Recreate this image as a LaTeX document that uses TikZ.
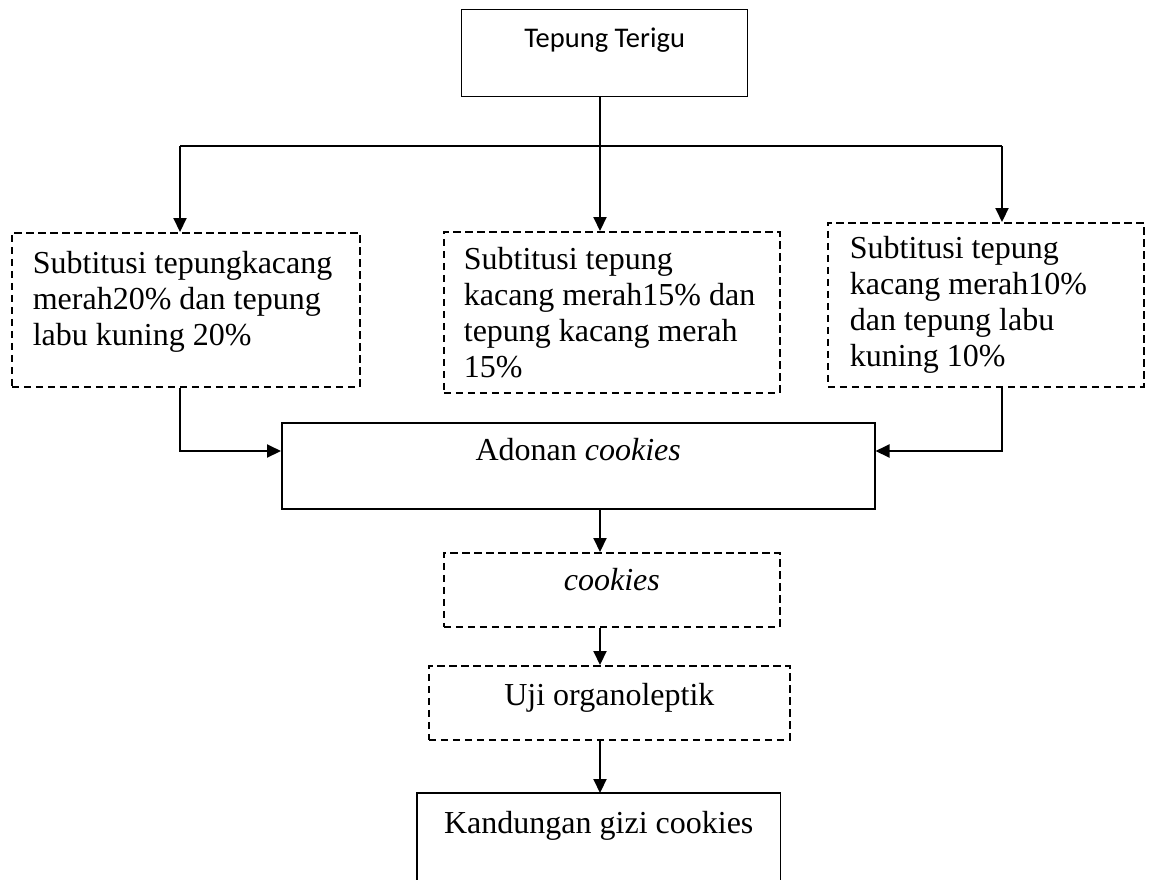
\documentclass[tikz,border=0pt]{standalone}
\usepackage{fontspec}
\setmainfont{Liberation Serif}
\newfontfamily\carlito{Carlito}
\usetikzlibrary{arrows.meta}
\tikzset{
  boxbase/.style={rectangle, inner ysep=0pt, anchor=north west, line width=1.5pt},
  solidbox/.style={boxbase, draw},
  dashbox/.style={boxbase, draw, dash pattern=on 7.5pt off 4.5pt, line width=1.7pt},
  conn/.style={line width=2pt},
  arr/.style={conn, -{Triangle[length=14pt,width=13pt]}},
  serif32/.style={font=\fontsize{32}{36}\selectfont},
}
\newcommand{\lines}[2]{\makebox[#1][l]{\begin{tabular}[t]{@{}l@{}}#2\end{tabular}}}
\begin{document}
\begin{tikzpicture}[x=1pt,y=-1pt]
\useasboundingbox (0,0) rectangle (1150,879);
\fill[white] (0,0) rectangle (1150,879);
% top box
\node[solidbox, line width=1.3pt, inner xsep=0pt, minimum width=286pt, text height=38pt, text depth=49pt,
      font=\carlito\fontsize{28.5}{34}\selectfont] (T) at (461,9) {Tepung Terigu};
% substitution boxes
\node[dashbox, serif32, inner xsep=21pt, text height=41pt, text depth=113pt] (b1) at (11,232)
  {\lines{306pt}{Subtitusi tepungkacang\\merah20\% dan tepung\\labu kuning 20\%}};
\node[dashbox, serif32, inner xsep=20pt, text height=38pt, text depth=123pt] (b2) at (443,231)
  {\lines{296pt}{Subtitusi tepung\\kacang merah15\% dan\\tepung kacang merah\\15\%}};
\node[dashbox, serif32, inner xsep=22pt, text height=36pt, text depth=128pt] (b3) at (827,222)
  {\lines{272pt}{Subtitusi tepung\\kacang merah10\%\\dan tepung labu\\kuning 10\%}};
% lower chain
\node[solidbox, serif32, inner xsep=0pt, minimum width=593pt, text height=38pt, text depth=48pt] (A) at (281,422)
  {Adonan \textit{cookies}};
\node[dashbox, serif32, inner xsep=0pt, minimum width=336pt, text height=38pt, text depth=36pt] (C) at (443,552)
  {\textit{cookies}};
\node[dashbox, serif32, inner xsep=0pt, minimum width=361pt, text height=40pt, text depth=34pt] (U) at (428,665)
  {Uji organoleptik};
\node[boxbase, serif32, inner xsep=0pt, minimum width=362pt, text height=40pt, text depth=52pt] (K) at (417,793)
  {Kandungan gizi cookies};
\draw[line width=1.5pt] (K.south west) -- (K.north west) -- (K.north east) -- (K.south east);
% connector helper points
\coordinate (hs) at (600,146);
\coordinate (hl) at (180,146);
\coordinate (hr) at (1002,146);
\coordinate (jl) at (180,451);
\coordinate (jr) at (1002,451);
\coordinate (mx) at (600,0);
% connectors
\draw[arr] (T.south -| hs) -- (b2.north -| hs);
\draw[conn] (hl) -- (hr);
\draw[arr] (hl) -- (b1.north -| hl);
\draw[arr] (hr) -- (b3.north -| hr);
\draw[arr] (b1.south -| jl) |- (A.west |- jl);
\draw[arr] (b3.south -| jr) |- (A.east |- jr);
\draw[arr] (A.south -| mx) -- (C.north -| mx);
\draw[arr] (C.south -| mx) -- (U.north -| mx);
\draw[arr] (U.south -| mx) -- (K.north -| mx);
\end{tikzpicture}
\end{document}
